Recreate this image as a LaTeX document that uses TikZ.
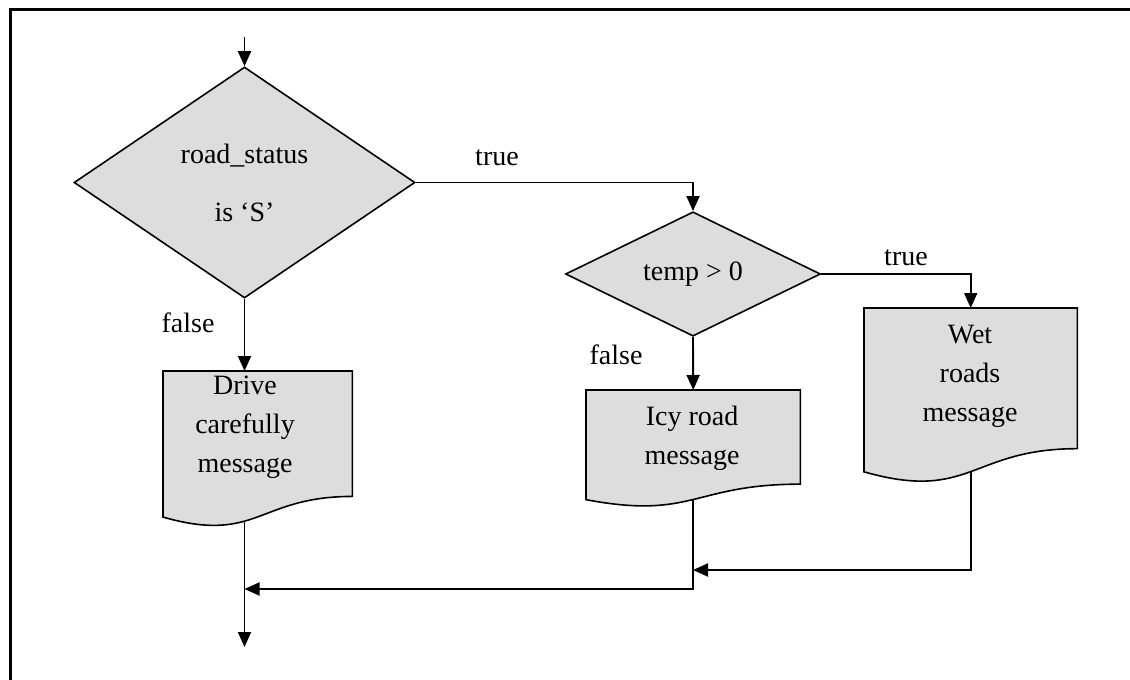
\documentclass[tikz,border=0pt]{standalone}
\usepackage{fontspec}
\setmainfont{Liberation Serif}
\usetikzlibrary{shapes.geometric,arrows.meta,calc}
\definecolor{boxgray}{RGB}{221,221,221}
\pgfdeclarelayer{wires}
\pgfsetlayers{wires,main}
\tikzset{
  every node/.style={font=\fontsize{28}{39}\selectfont, inner sep=0pt},
  decision/.style={diamond, draw, fill=boxgray, line width=1.6pt, align=center},
  docarea/.style={rectangle, draw=none, inner sep=0pt, anchor=north west},
  doctext/.style={align=center},
  flow/.style={line width=1.9pt},
  arr/.style={flow, -{Triangle[width=13pt,length=15pt]}},
  docline/.style={draw, fill=boxgray, line width=1.6pt, line join=miter},
  tag/.style={anchor=base},
}
% document symbol: flat top, wavy bottom edge
\newcommand\docoutline[1]{%
  \path[docline] (#1.north west) -- (#1.north east)
    -- ($(#1.north east)!0.802!(#1.south east)$)
    .. controls ($(#1.north)!0.802!(#1.south)$) and ($(#1.north)!1.107!(#1.south)$)
    .. ($(#1.north west)!0.934!(#1.south west)$) -- cycle;}
\begin{document}
\begin{tikzpicture}[x=1pt,y=-1pt]
\useasboundingbox (0,0) rectangle (1130,680);
\draw[line width=3pt] (10.5,680) -- (10.5,9.5) -- (1130,9.5);

% decisions
\node[decision, minimum width=341pt, minimum height=231pt] (status) at (244.5,182.5) {road\_status\\[19pt]is ‘S’};
\node[decision, minimum width=255pt, minimum height=114pt] (temp) at (693,274) {temp > 0};

% output documents
\node[docarea, minimum width=189pt, minimum height=156pt] (drive) at (163,371) {};
\node[docarea, minimum width=214pt, minimum height=117pt] (icy) at (586,390) {};
\node[docarea, minimum width=213pt, minimum height=175pt] (wet) at (864,308) {};
\docoutline{drive}
\docoutline{icy}
\docoutline{wet}
\node[doctext] (drivetext) at (245,427.5) {Drive\\carefully\\message};
\node[doctext] (icytext) at (692,438) {Icy road\\message};
\node[doctext] (wettext) at (970,376) {Wet\\roads\\message};

% free ends and junctions
\coordinate (entry) at (244.5,37);
\coordinate (sink) at (244.5,647);
\coordinate (wetjoin) at (693,570);
\coordinate (icyjoin) at (244.5,589);

\draw[arr] (entry) -- (status.north);
\draw[arr] (status.east) -| (temp.north);
\draw[arr] (status.south) -- (drive.north -| status.south);
\draw[arr] (temp.south) -- (icy.north);
\draw[arr] (temp.east) -| (wet.north);
\begin{pgfonlayer}{wires}
\draw[arr] (wet.center) |- (wetjoin);
\draw[arr] (icy.center) |- (icyjoin);
\draw[arr] (drive.center -| status.south) -- (sink);
\end{pgfonlayer}

% branch labels
\node[tag] (truea) at (497,165) {true};
\node[tag] (falsea) at (188,332) {false};
\node[tag] (trueb) at (906,265) {true};
\node[tag] (falseb) at (616,364) {false};
\end{tikzpicture}
\end{document}
